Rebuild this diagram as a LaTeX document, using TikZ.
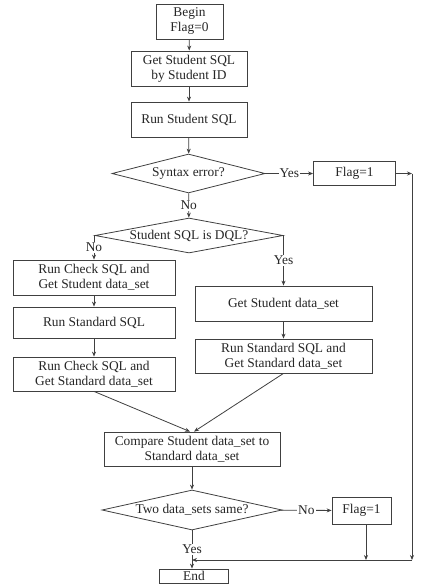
\documentclass[tikz,border=0pt]{standalone}
\usepackage{fontspec}
\setmainfont{Liberation Serif}
\usetikzlibrary{shapes.geometric,arrows.meta}
\begin{document}
\begin{tikzpicture}[x=1pt,y=-1pt,
  font=\fontsize{13.4}{15}\selectfont,
  every node/.style={text=black!85},
  box/.style={draw=black!75, line width=0.8pt, rectangle, inner sep=0pt, align=center},
  dia/.style={draw=black!75, line width=0.8pt, diamond, inner sep=0pt, align=center},
  lbl/.style={fill=white, inner sep=1pt},
  arr/.style={draw=black!75, line width=0.8pt, -{Stealth[length=5pt,width=4pt]}}]
\useasboundingbox (0,0) rectangle (443,587);
\fill[white] (0,0) rectangle (443,587);

\node[box, minimum width=67, minimum height=35] (begin) at (189.5,21.5) {Begin\\Flag=0};
\node[box, minimum width=116, minimum height=35] (getsql) at (189,68.5) {Get Student SQL\\by Student ID};
\node[box, minimum width=116, minimum height=35] (runsql) at (189,119.5) {Run Student SQL};
\node[dia, aspect=3.92, minimum width=153, minimum height=39] (syntax) at (188.5,173.5) {Syntax error?};
\node[box, minimum width=82, minimum height=24] (flag1) at (354.5,173.5) {Flag=1};
\node[dia, aspect=5.37, minimum width=188, minimum height=35] (dql) at (189,235.5) {Student SQL is DQL?};
\node[box, minimum width=162, minimum height=35] (la) at (94,277.5) {Run Check SQL and\\Get Student data\_set};
\node[box, minimum width=162, minimum height=31] (lb) at (94,322.5) {Run Standard SQL};
\node[box, minimum width=162, minimum height=34] (lc) at (94,374) {Run Check SQL and\\Get Standard data\_set};
\node[box, minimum width=177, minimum height=35] (ra) at (283.5,303.5) {Get Student data\_set};
\node[box, minimum width=177, minimum height=34] (rb) at (283.5,356) {Run Standard SQL and\\Get Standard data\_set};
\node[box, minimum width=176, minimum height=34] (compare) at (192,449) {Compare Student data\_set to\\Standard data\_set};
\node[dia, aspect=4.5, minimum width=180, minimum height=40] (same) at (192,510) {Two data\_sets same?};
\node[box, minimum width=59, minimum height=27] (flag2) at (361.5,510.5) {Flag=1};
\node[box, minimum width=69, minimum height=14] (end) at (194,576) {End};

\coordinate (c1) at (412,173.5);
\coordinate (c2) at (412,560);
\coordinate (c3) at (192,560);
\coordinate (c4) at (366,560);

\draw[arr] (begin) -- (getsql);
\draw[arr] (getsql) -- (runsql);
\draw[arr] (runsql) -- (syntax);
\draw[arr] (syntax) -- node[lbl]{No} (dql);
\draw[arr] (syntax) -- node[lbl]{Yes} (flag1);
\draw[arr] (flag1) -- (c1);
\draw[arr] (c1) -- (c2);
\draw[arr] (c2) -- (c3);
\draw[arr] (dql.west) -| node[lbl, pos=0.75]{No} (la.north);
\draw[arr] (dql.east) -| node[lbl, pos=0.75]{Yes} (ra.north);
\draw[arr] (la) -- (lb);
\draw[arr] (lb) -- (lc);
\draw[arr] (ra) -- (rb);
\draw[arr] (lc.south) -- ([xshift=-2pt]compare.north);
\draw[arr] (rb.south) -- ([xshift=2pt]compare.north);
\draw[arr] (compare) -- (same);
\draw[arr] (same) -- node[lbl]{No} (flag2);
\draw[arr] (flag2.south -| c4) -- (c4);
\draw[arr] (same.south) -- node[lbl]{Yes} (same.south |- end.north);
\end{tikzpicture}
\end{document}
